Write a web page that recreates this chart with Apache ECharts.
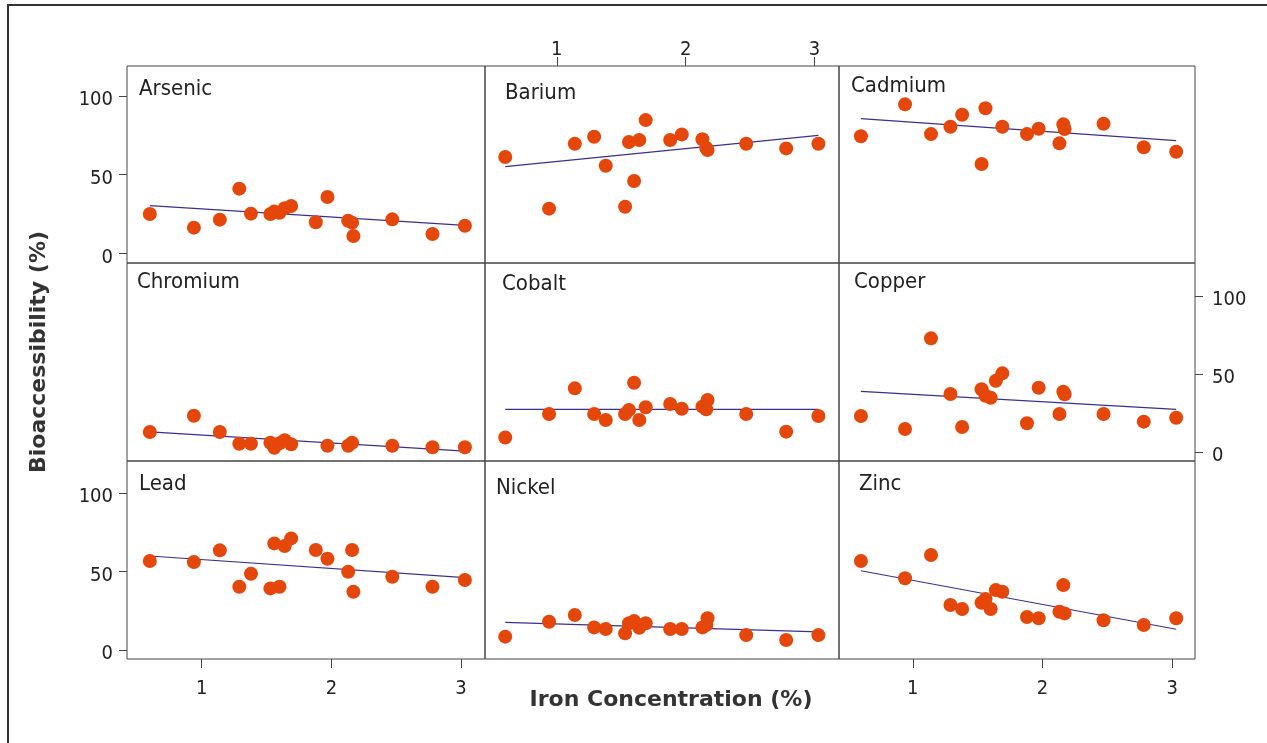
<!DOCTYPE html>
<html>
<head>
<meta charset="utf-8">
<script src="https://cdn.jsdelivr.net/npm/echarts@6/dist/echarts.min.js"></script>
<style>
html,body{margin:0;padding:0;background:#fff;}
#chart{width:1267px;height:743px;}
</style>
</head>
<body>
<div id="chart"></div>
<script>
// Iron concentration (%) of each sample (shared x values)
const iron = [0.60, 0.94, 1.14, 1.29, 1.38, 1.53, 1.56, 1.60, 1.64, 1.69, 1.88, 1.97, 2.13, 2.16, 2.17, 2.47, 2.78, 3.03];

// Bioaccessibility (%) per element, same sample order as iron (null = not visible / missing)
const elements = ['Arsenic', 'Barium', 'Cadmium', 'Chromium', 'Cobalt', 'Copper', 'Lead', 'Nickel', 'Zinc'];
const arsenic  = [25.0, 16.3, 21.4, 41.1, 25.2, 25.0, 26.5, 25.8, 28.6, 30.1, 19.7, 35.8, 20.7, 19.5, 11.0, 21.6, 12.3, 17.5];
const barium   = [61.2, 28.4, 69.7, 74.1, 55.7, 29.6, 70.8, 46.0, 72.0, 84.7, 72.0, 75.6, 72.5, 67.0, 65.7, 69.7, 66.7, 69.7];
const cadmium  = [74.4, 94.7, 75.8, 80.5, 88.1, 56.8, 92.2, null, null, 80.5, 75.8, 79.2, 69.9, 82.0, 79.0, 82.4, 67.4, 64.6];
const chromium = [13.0, 23.4, 13.0, 5.5, 5.5, 6.1, 2.9, 5.8, 7.7, 5.1, null, 4.2, 4.2, 6.1, null, 4.2, 3.2, 3.2];
const cobalt   = [9.5, 24.5, 40.9, 24.5, 20.7, 24.5, 27.1, 44.5, 20.7, 28.8, 30.9, 27.9, 29.2, 27.5, 33.5, 24.5, 13.2, 23.2];
const copper   = [23.2, 14.9, 72.9, 37.3, 16.2, 40.3, 36.2, 34.9, 45.8, 50.5, 18.6, 41.3, 24.5, 38.8, 37.1, 24.5, 19.6, 22.1];
const lead     = [56.6, 55.9, 63.4, 40.2, 48.5, 39.2, 67.8, 40.2, 66.1, 71.0, 63.6, 58.0, 49.8, 63.6, 37.1, 46.6, 40.2, 44.5];
const nickel   = [8.5, 18.0, 22.3, 14.4, 13.4, 10.6, 17.0, 18.4, 14.2, 17.0, 13.4, 13.4, 14.4, 15.9, 20.2, 9.5, 6.4, 9.5];
const zinc     = [56.6, 45.6, 60.4, 28.6, 26.1, 30.1, 32.4, 26.1, 38.1, 37.1, 21.0, 20.2, 24.3, 41.3, 23.3, 18.9, 15.9, 20.2];

// Fitted regression line ends (value at lowest and highest iron)
const fitStart = [30.3, 55.1, 85.6, 13.0, 27.5, 39.0, 59.8, 17.6, 50.4];
const fitEnd   = [17.8, 75.0, 71.6, 0.8, 27.5, 27.5, 46.0, 11.6, 13.2];

const xTicks = [1, 2, 3];
const yTicks = [0, 50, 100];
const xTitle = 'Iron Concentration (%)';
const yTitle = 'Bioaccessibility (%)';

const seriesData = [arsenic, barium, cadmium, chromium, cobalt, copper, lead, nickel, zinc];

// layout
const colLeft = [127, 485, 839];
const colWidth = [358, 354, 356];
const colX = [[0.424, 3.185], [0.443, 3.19], [0.431, 3.175]];
const rowTop = [66, 263, 461];
const rowHeight = [197, 198, 198];
const rowY = [[-6.17, 119.1], [-5.57, 121.1], [-5.7, 120.2]];
const titlePos = [[139, 78], [505, 82], [851, 75], [137, 271], [502, 273], [854, 271], [139, 473], [496, 477], [859, 473]];

const FONT = "'DejaVu Sans Condensed', 'DejaVu Sans', sans-serif";
const TXT = '#222';
const AX = '#444';
const PT = '#E5470A';
const LN = '#3B2F8E';

const grids = [], xAxes = [], yAxes = [], series = [], titles = [];
for (let i = 0; i < 9; i++) {
  const r = Math.floor(i / 3), c = i % 3;
  grids.push({left: colLeft[c], top: rowTop[r], width: colWidth[c], height: rowHeight[r],
    show: true, borderColor: AX, borderWidth: 1, backgroundColor: 'transparent'});
  let xPos = 'bottom', xShow = false;
  if (r === 0 && c === 1) { xPos = 'top'; xShow = true; }
  if (r === 2 && (c === 0 || c === 2)) { xPos = 'bottom'; xShow = true; }
  xAxes.push({
    gridIndex: i, type: 'value', min: colX[c][0], max: colX[c][1], position: xPos,
    splitLine: {show: false}, axisLine: {show: false, onZero: false},
    axisTick: {show: xShow, length: 9, customValues: xTicks, lineStyle: {color: AX, width: 1}},
    axisLabel: {show: xShow, customValues: xTicks, margin: xPos === 'top' ? 6 : 20,
      fontSize: 20, fontFamily: FONT, color: TXT}
  });
  let yPos = 'left', yShow = false;
  if (c === 0 && (r === 0 || r === 2)) { yPos = 'left'; yShow = true; }
  if (c === 2 && r === 1) { yPos = 'right'; yShow = true; }
  yAxes.push({
    gridIndex: i, type: 'value', min: rowY[r][0], max: rowY[r][1], position: yPos,
    splitLine: {show: false}, axisLine: {show: false, onZero: false},
    axisTick: {show: yShow, length: 8, customValues: yTicks, lineStyle: {color: AX, width: 1}},
    axisLabel: {show: yShow, customValues: yTicks, margin: yPos === 'left' ? 14 : 17,
      fontSize: 20, fontFamily: FONT, color: TXT, verticalAlign: 'top', lineHeight: 8}
  });
  series.push({
    type: 'scatter', xAxisIndex: i, yAxisIndex: i, symbolSize: 14,
    itemStyle: {color: PT, opacity: 1},
    data: iron.map((x, k) => [x, seriesData[i][k]]).filter(d => d[1] !== null), z: 3, animation: false
  });
  series.push({
    type: 'line', xAxisIndex: i, yAxisIndex: i, symbol: 'none',
    lineStyle: {color: LN, width: 1.2},
    data: [[iron[0], fitStart[i]], [iron[iron.length - 1], fitEnd[i]]], z: 2, animation: false
  });
  titles.push({text: elements[i], left: titlePos[i][0], top: titlePos[i][1], padding: 0,
    textStyle: {fontSize: 22, fontWeight: 'normal', fontFamily: FONT, color: TXT}});
}

const chart = echarts.init(document.getElementById('chart'), null, {renderer: 'canvas'});
chart.setOption({
  animation: false,
  backgroundColor: '#fff',
  title: titles,
  grid: grids,
  xAxis: xAxes,
  yAxis: yAxes,
  series: series,
  graphic: [
    {type: 'rect', shape: {x: 8, y: 5, width: 1300, height: 800}, silent: true,
      style: {fill: 'none', stroke: '#333', lineWidth: 2}},
    {type: 'text', x: 39, y: 352, rotation: Math.PI / 2, silent: true,
      style: {text: yTitle, font: "bold 22px 'DejaVu Sans', sans-serif", fill: '#333', align: 'center', verticalAlign: 'middle'}},
    {type: 'text', x: 671, y: 700, silent: true,
      style: {text: xTitle, font: "bold 22px 'DejaVu Sans', sans-serif", fill: '#333', align: 'center', verticalAlign: 'middle'}}
  ]
});
</script>
</body>
</html>
